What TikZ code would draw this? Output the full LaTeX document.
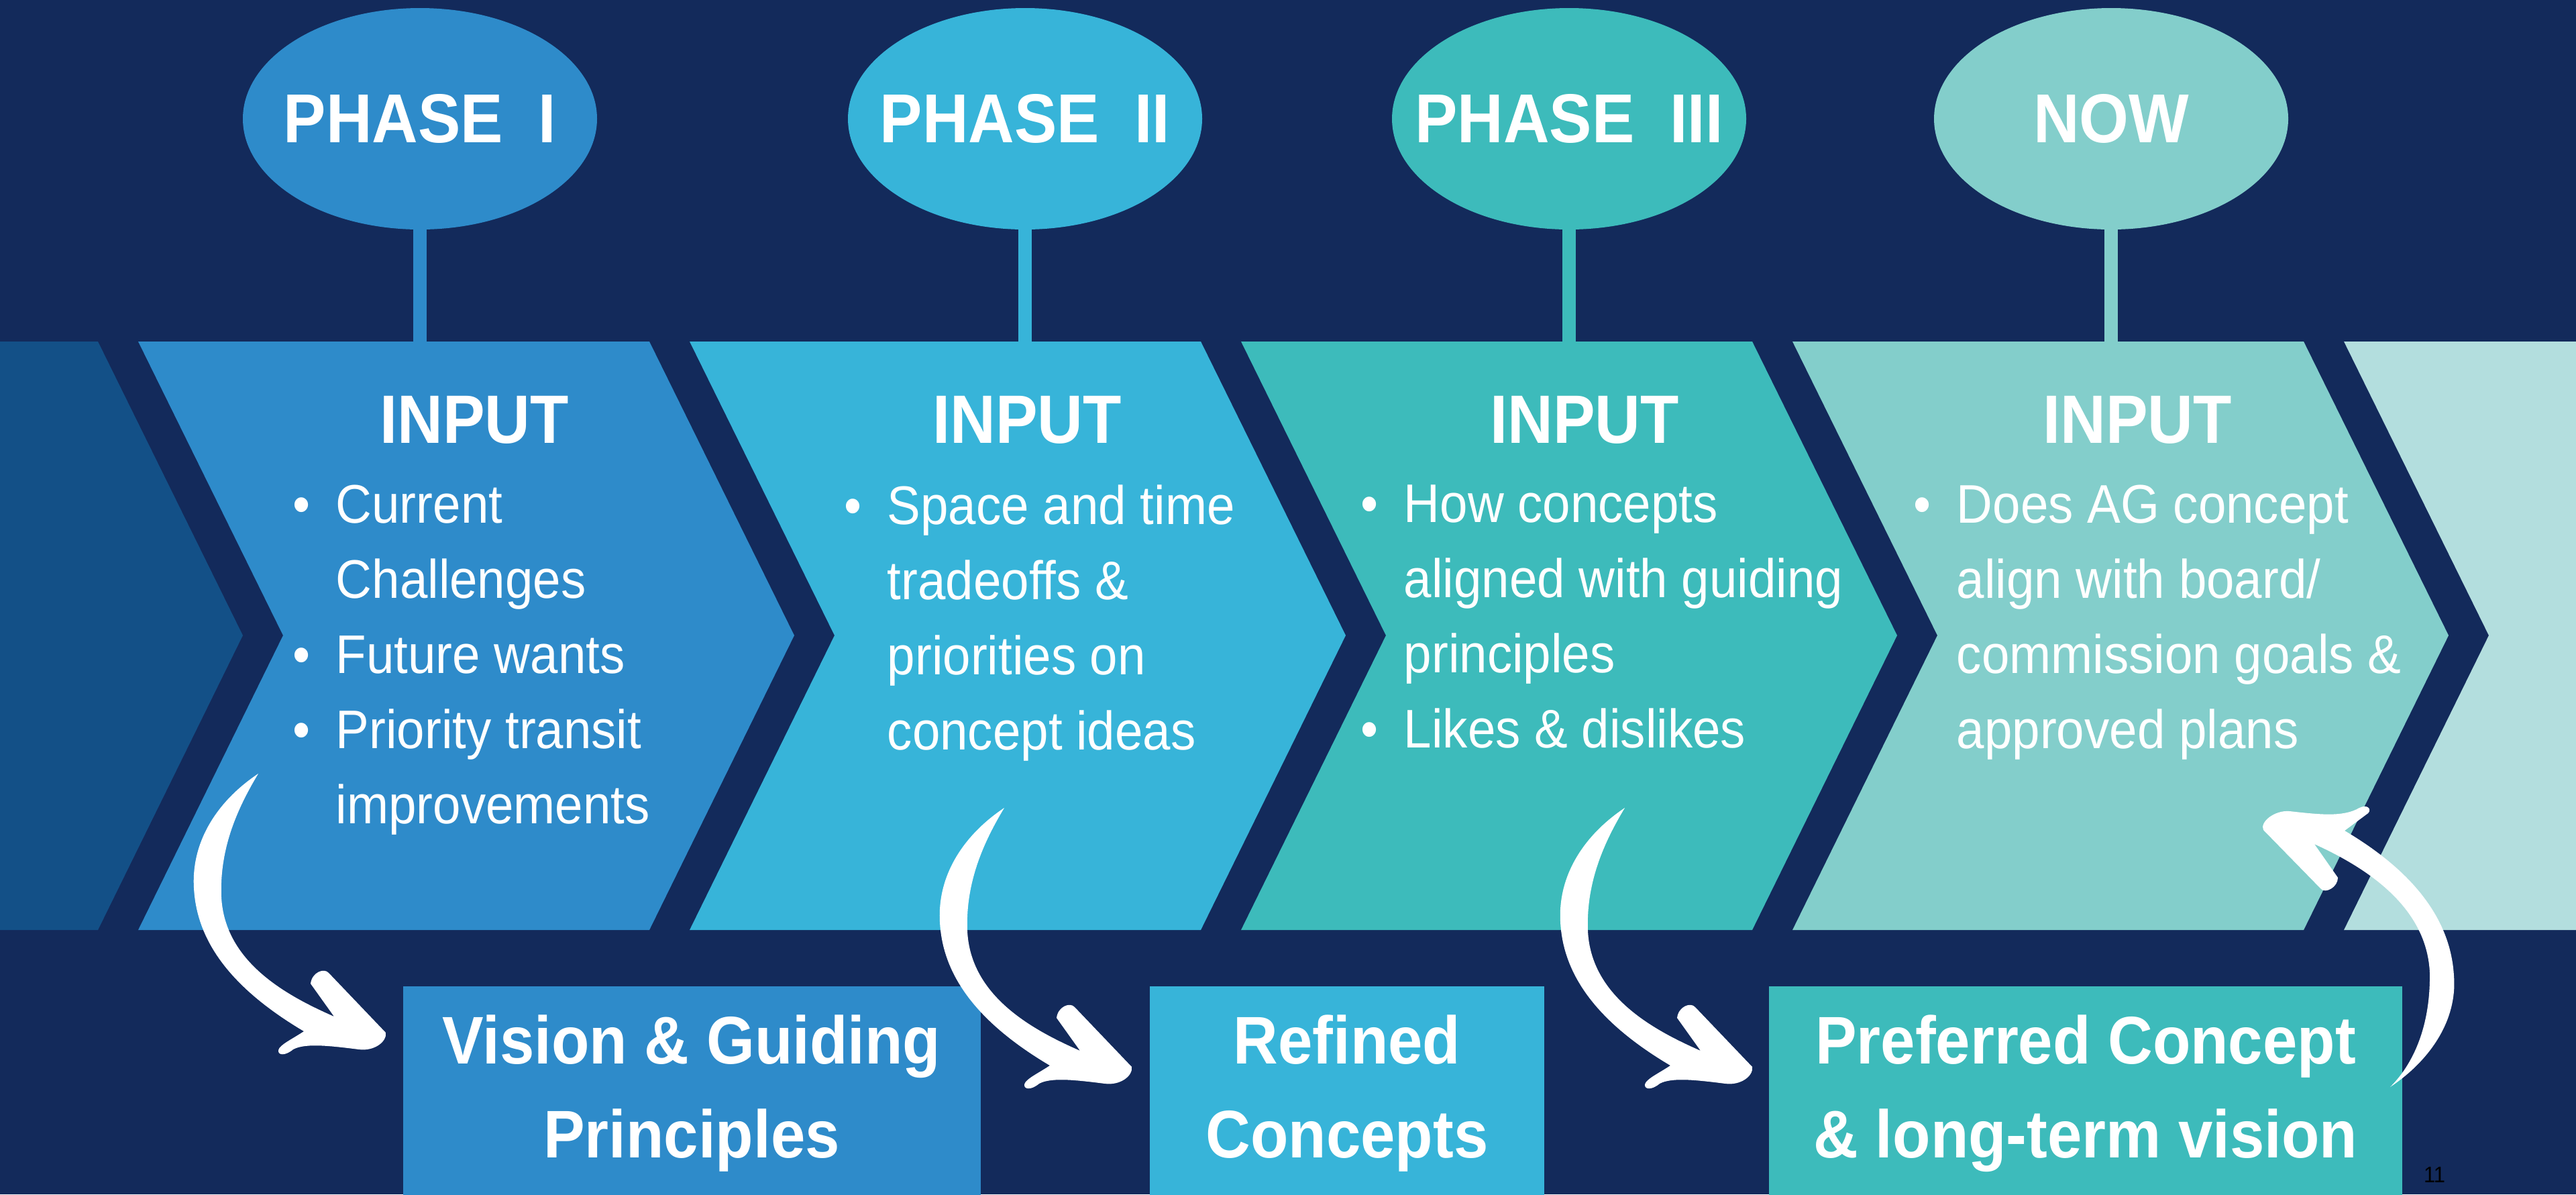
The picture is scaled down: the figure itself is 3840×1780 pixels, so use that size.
\documentclass[tikz,border=0pt]{standalone}
\usepackage{fontspec}
\setmainfont{Liberation Sans}[FakeStretch=0.92]
\usetikzlibrary{shapes.geometric}
\definecolor{navy}{RGB}{19,42,91}
\definecolor{deep}{RGB}{19,80,135}
\definecolor{phaseone}{RGB}{46,139,202}
\definecolor{phasetwo}{RGB}{55,180,217}
\definecolor{phasethree}{RGB}{61,187,187}
\definecolor{phasenow}{RGB}{131,206,203}
\definecolor{pale}{RGB}{179,222,222}
\newcommand{\bul}{\makebox[16pt][l]{\textbullet}}
\newcommand{\gap}{\hspace*{16pt}}
\begin{document}
\begin{tikzpicture}[x=0.25pt, y=-0.25pt,
  phase/.style={ellipse, inner sep=0, outer sep=0, minimum width=132pt, minimum height=82.5pt},
  phasetext/.style={inner sep=0, text=white, font=\bfseries\fontsize{25.8}{30}\selectfont},
  stem/.style={line width=5pt},
  title/.style={inner sep=0, text=white, font=\bfseries\fontsize{25.5}{30}\selectfont},
  bullets/.style={anchor=north west, inner sep=0, align=left, text=white, font=\fontsize{20.25}{28}\selectfont},
  outbox/.style={inner sep=0, minimum height=80pt, align=center, text=white, font=\bfseries\fontsize{25.1}{35}\selectfont},
  swoosh/.pic={\fill[white] (0,0) .. controls (-60,40) and (-100,100) .. (-96,170)
    .. controls (-92,250) and (-40,320) .. (68,384) .. controls (50,396) and (32,404) .. (30,412)
    .. controls (29,420) and (40,421) .. (52,411) .. controls (70,401) and (110,406) .. (150,411)
    .. controls (172,414) and (192,400) .. (190,386) -- (105,297) .. controls (98,289) and (80,296) .. (78,313)
    -- (113,362) .. controls (40,330) and (-50,280) .. (-55,184) .. controls (-58,110) and (-30,50) .. (0,0) -- cycle;},
  swooshup/.pic={\fill[white] (0,0) .. controls (60,-40) and (100,-100) .. (95,-165)
    .. controls (90,-260) and (20,-330) .. (-68,-382) -- (-33,-408) .. controls (-27,-414) and (-34,-422) .. (-46,-416)
    .. controls (-70,-402) and (-105,-406) .. (-150,-411) .. controls (-172,-413) and (-195,-395) .. (-189,-383)
    -- (-103,-295) .. controls (-96,-288) and (-78,-298) .. (-78,-312)
    -- (-113,-362) .. controls (-20,-320) and (55,-260) .. (59,-170) .. controls (60,-100) and (40,-40) .. (0,0) -- cycle;}]
\useasboundingbox (0,0) rectangle (3840,1780);
\fill[navy] (0,0) rectangle (3840,1780);
\fill[deep] (-10,509) -- (146,509) -- (362,947) -- (146,1386) -- (-10,1386) -- cycle;
\fill[phaseone] (206,509) -- (968,509) -- (1184,947) -- (968,1386) -- (206,1386) -- (422,947) -- cycle;
\fill[phasetwo] (1028,509) -- (1790,509) -- (2006,947) -- (1790,1386) -- (1028,1386) -- (1244,947) -- cycle;
\fill[phasethree] (1850,509) -- (2612,509) -- (2828,947) -- (2612,1386) -- (1850,1386) -- (2066,947) -- cycle;
\fill[phasenow] (2672,509) -- (3434,509) -- (3650,947) -- (3434,1386) -- (2672,1386) -- (2888,947) -- cycle;
\fill[pale] (3494,509) -- (3850,509) -- (3850,1386) -- (3494,1386) -- (3710,947) -- cycle;
\node[phase, fill=phaseone, label={[phasetext]center:PHASE~~I}] (p1) at (626,177) {};
\node[phase, fill=phasetwo, label={[phasetext]center:PHASE~~II}] (p2) at (1528,177) {};
\node[phase, fill=phasethree, label={[phasetext]center:PHASE~~III}] (p3) at (2339,177) {};
\node[phase, fill=phasenow, label={[phasetext]center:NOW}] (p4) at (3147,177) {};
\coordinate (s1) at (626,509);
\coordinate (s2) at (1528,509);
\coordinate (s3) at (2339,509);
\coordinate (s4) at (3147,509);
\draw[stem, phaseone] (p1) -- (s1);
\draw[stem, phasetwo] (p2) -- (s2);
\draw[stem, phasethree] (p3) -- (s3);
\draw[stem, phasenow] (p4) -- (s4);
\node[title] (in1) at (707,626) {INPUT};
\node[title] (in2) at (1531,626) {INPUT};
\node[title] (in3) at (2362,626) {INPUT};
\node[title] (in4) at (3186,626) {INPUT};
\node[bullets] (b1) at (436,722) {\bul Current\\\gap Challenges\\\bul Future wants\\\bul Priority transit\\\gap improvements};
\node[bullets] (b2) at (1258,722) {\bul Space and time\\\gap tradeoffs \&\\\gap priorities on\\\gap concept ideas};
\node[bullets] (b3) at (2028,722) {\bul How concepts\\\gap aligned with guiding\\\gap principles\\\bul Likes \& dislikes};
\node[bullets] (b4) at (2852,722) {\bul Does AG concept\\\gap align with board/\\\gap commission goals \&\\\gap approved plans};
\node[outbox, fill=phaseone, minimum width=215.25pt] (o1) at (1031,1630) {Vision \& Guiding\\Principles};
\node[outbox, fill=phasetwo, minimum width=147pt] (o2) at (2008,1630) {Refined\\Concepts};
\node[outbox, fill=phasethree, minimum width=236pt] (o3) at (3109,1630) {Preferred Concept\\\& long-term vision};
\node[font=\fontsize{8.4}{10}\selectfont] (pg) at (3629,1751) {11};
\coordinate (a1) at (385,1153);
\coordinate (a2) at (1497,1204);
\coordinate (a3) at (2422,1204);
\coordinate (a4) at (3563,1620);
\pic at (a1) {swoosh};
\pic at (a2) {swoosh};
\pic at (a3) {swoosh};
\pic at (a4) {swooshup};
\end{tikzpicture}
\end{document}
